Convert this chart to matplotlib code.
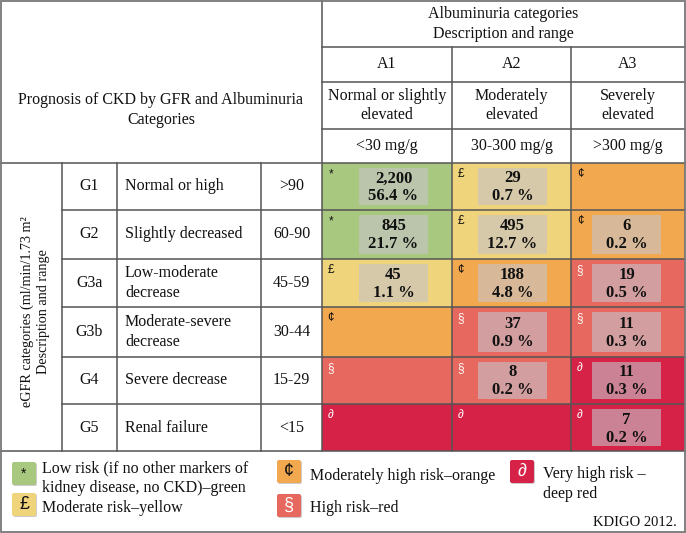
import matplotlib.pyplot as plt
from matplotlib.patches import Rectangle, FancyBboxPatch

# table content
a_stages = ["A1", "A2", "A3"]
a_desc = ["Normal or slightly\nelevated", "Moderately\nelevated", "Severely\nelevated"]
a_range = ["<30 mg/g", "30-300 mg/g", ">300 mg/g"]

g_stages = ["G1", "G2", "G3a", "G3b", "G4", "G5"]
g_desc = ["Normal or high", "Slightly decreased", "Low-moderate\ndecrease",
          "Moderate-severe\ndecrease", "Severe decrease", "Renal failure"]
g_range = [">90", "60-90", "45-59", "30-44", "15-29", "<15"]

# risk level per cell: 0 low, 1 moderate, 2 moderately high, 3 high, 4 very high
risk = [
    [0, 1, 2],
    [0, 1, 2],
    [1, 2, 3],
    [2, 3, 3],
    [3, 3, 4],
    [4, 4, 4],
]
counts = [
    [2200, 29, None],
    [845, 495, 6],
    [45, 188, 19],
    [None, 37, 11],
    [None, 8, 11],
    [None, None, 7],
]
percents = [
    [56.4, 0.7, None],
    [21.7, 12.7, 0.2],
    [1.1, 4.8, 0.5],
    [None, 0.9, 0.3],
    [None, 0.2, 0.3],
    [None, None, 0.2],
]

risk_colors = ["#a9c87f", "#f0d47c", "#f2a84f", "#e6685f", "#d52246"]
risk_symbols = ["*", "£", "¢", "§", "∂"]
symbol_colors = ["#111111", "#111111", "#111111", "white", "white"]
legend_labels = ["Low risk (if no other markers of\nkidney disease, no CKD)\u2013green",
                 "Moderate risk\u2013yellow",
                 "Moderately high risk\u2013orange",
                 "High risk\u2013red",
                 "Very high risk \u2013\ndeep red"]

# layout (pixels)
W, H = 686, 533
left_cols = [1, 62, 117, 261, 322]
a_cols = [322, 452, 571, 685]
head_rows = [1, 47, 82, 129, 163]
body_rows = [163, 210, 259, 307, 357, 404, 451]
bottom = 532

serif = "Liberation Serif"
sans = ["Liberation Sans", "DejaVu Sans"]
txt = "#111111"
fs = 11.5
ls = 1.3

fig = plt.figure(figsize=(W / 100, H / 100), dpi=100)
ax = fig.add_axes([0, 0, 1, 1])
ax.set_xlim(0, W)
ax.set_ylim(H, 0)
ax.axis("off")

# coloured risk cells
for i in range(len(g_stages)):
    for j in range(len(a_stages)):
        x0, x1 = a_cols[j], a_cols[j + 1]
        y0, y1 = body_rows[i], body_rows[i + 1]
        r = risk[i][j]
        ax.add_patch(Rectangle((x0, y0), x1 - x0, y1 - y0, facecolor=risk_colors[r],
                               edgecolor="none", zorder=1))
        ax.text(x0 + 9, y0 + 11, risk_symbols[r], family=sans, fontsize=8.5,
                color=symbol_colors[r], ha="center", va="center", zorder=4)
        if counts[i][j] is not None:
            bx1 = x1 - 24
            bx0 = bx1 - 69
            by0, by1 = y0 + 5, y1 - 5
            ax.add_patch(Rectangle((bx0, by0), bx1 - bx0, by1 - by0,
                                   facecolor="#c6c3ca", alpha=0.6, edgecolor="none", zorder=2))
            cx = (bx0 + bx1) / 2
            cy = (by0 + by1) / 2
            ax.text(cx, cy - 8, f"{counts[i][j]:,}", family=serif, fontsize=12,
                    fontweight="bold", color=txt, ha="center", va="center", zorder=4)
            ax.text(cx, cy + 10, f"{percents[i][j]} %", family=serif, fontsize=12,
                    fontweight="bold", color=txt, ha="center", va="center", zorder=4)

# grid lines
lc = "#555555"
lw = 1.1
for x in left_cols[1:4]:
    ax.plot([x, x], [body_rows[0], body_rows[-1]], color=lc, lw=lw, zorder=3)
ax.plot([322, 322], [1, body_rows[-1]], color=lc, lw=lw, zorder=3)
for x in a_cols[1:3]:
    ax.plot([x, x], [head_rows[1], body_rows[-1]], color=lc, lw=lw, zorder=3)
for y in head_rows[1:4]:
    ax.plot([322, 685], [y, y], color=lc, lw=lw, zorder=3)
ax.plot([1, 685], [163, 163], color=lc, lw=lw, zorder=3)
for y in body_rows[1:-1]:
    ax.plot([62, 685], [y, y], color=lc, lw=lw, zorder=3)
ax.plot([1, 685], [451, 451], color=lc, lw=lw, zorder=3)
ax.add_patch(Rectangle((1, 1), 684, bottom - 1, facecolor="none",
                       edgecolor="#777777", lw=1.3, zorder=3))

# header texts
ax.text(161, 110, "Prognosis of CKD by GFR and Albuminuria\nCategories", family=serif,
        fontsize=fs, color=txt, ha="center", va="center", linespacing=ls)
ax.text(503.5, 24, "Albuminuria categories\nDescription and range", family=serif,
        fontsize=fs, color=txt, ha="center", va="center", linespacing=ls)
for j in range(len(a_stages)):
    cx = (a_cols[j] + a_cols[j + 1]) / 2
    ax.text(cx, (head_rows[1] + head_rows[2]) / 2, a_stages[j], family=serif,
            fontsize=fs, color=txt, ha="center", va="center")
    ax.text(cx, (head_rows[2] + head_rows[3]) / 2, a_desc[j], family=serif,
            fontsize=fs, color=txt, ha="center", va="center", linespacing=ls)
    ax.text(cx, (head_rows[3] + head_rows[4]) / 2, a_range[j], family=serif,
            fontsize=fs, color=txt, ha="center", va="center")

# left side texts
ax.text(35, 312, "eGFR categories (ml/min/1.73 m\u00b2\nDescription and range", family=serif,
        fontsize=10.2, color=txt, ha="center", va="center", rotation=90, linespacing=ls)
for i in range(len(g_stages)):
    cy = (body_rows[i] + body_rows[i + 1]) / 2
    ax.text((left_cols[1] + left_cols[2]) / 2, cy, g_stages[i], family=serif,
            fontsize=fs, color=txt, ha="center", va="center")
    ax.text(left_cols[2] + 8, cy, g_desc[i], family=serif, fontsize=fs, color=txt,
            ha="left", va="center", linespacing=ls)
    ax.text((left_cols[3] + left_cols[4]) / 2, cy, g_range[i], family=serif,
            fontsize=fs, color=txt, ha="center", va="center")

# legend
sw_pos = [(12, 462), (12, 493), (277, 460), (277, 494), (510, 460)]
lab_pos = [(42, 478), (42, 508), (310, 476), (310, 508), (543, 484)]
sw, sh = 24, 23
for k in range(len(risk_colors)):
    sx, sy = sw_pos[k]
    ax.add_patch(FancyBboxPatch((sx + 1, sy + 1), sw, sh, boxstyle="round,pad=0,rounding_size=2",
                                facecolor="#cccccc", edgecolor="none", zorder=2))
    ax.add_patch(FancyBboxPatch((sx, sy), sw, sh, boxstyle="round,pad=0,rounding_size=2",
                                facecolor=risk_colors[k], edgecolor="none", zorder=3))
    ax.text(sx + sw / 2, sy + sh / 2, risk_symbols[k], family=sans,
            fontsize=10 if k == 0 else 13, color=symbol_colors[k],
            ha="center", va="center", zorder=4)
    lx, ly = lab_pos[k]
    ax.text(lx, ly, legend_labels[k], family=serif, fontsize=fs, color=txt,
            ha="left", va="center", linespacing=ls)
ax.text(677, 522, "KDIGO 2012.", family=serif, fontsize=10.5, color=txt,
        ha="right", va="center")

fig.savefig("out.png", dpi=100)
